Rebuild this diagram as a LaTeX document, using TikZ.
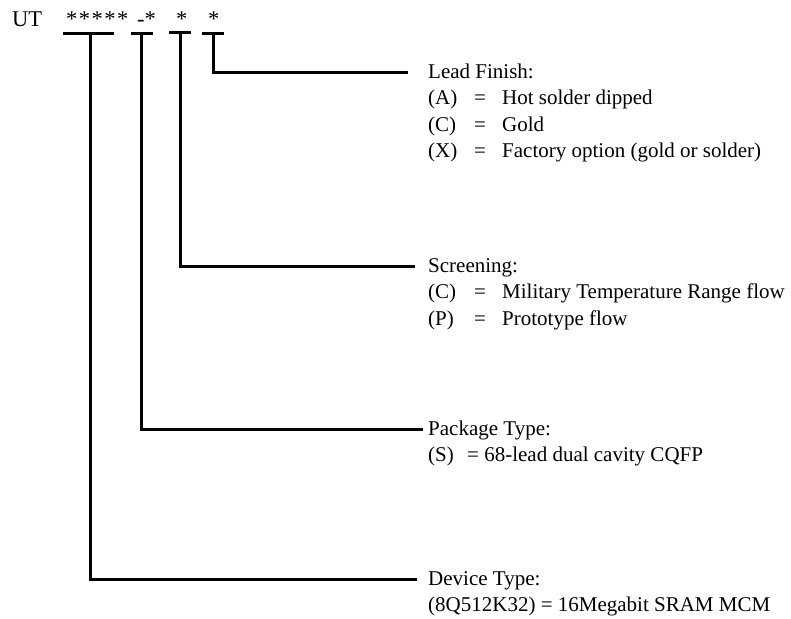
\documentclass[tikz,border=0pt]{standalone}
\usepackage{fontspec}
\setmainfont{Liberation Serif}
\begin{document}
\begin{tikzpicture}[x=1pt,y=-1pt,
  lbl/.style={font=\fontsize{21}{26.5}\selectfont, inner sep=0pt, anchor=base west},
  head/.style={font=\fontsize{21}{26.5}\selectfont, inner sep=0pt, anchor=west, text height=13.9pt, text depth=0pt},
  code/.style={font=\fontsize{22.5}{27}\selectfont, inner sep=0pt, anchor=base west},
  bar/.style={line width=3pt},
  conn/.style={line width=3pt}]
\fill[white] (0,0) rectangle (791,618);
\useasboundingbox (0,0) rectangle (791,618);
% part number code
\node[code] (ut) at (12,27) {UT};
\node[code] (dev) at (66,27) {*\kern1.5pt*\kern1.5pt*\kern1.5pt*\kern1.5pt*};
\node[code] (pkg) at (137,27) {-*};
\node[code] (scr) at (176,27) {*};
\node[code] (fin) at (208,27) {*};
% bars under the code fields
\coordinate (b1l) at (63,34);  \coordinate (b1r) at (114,34); \coordinate (b1) at (90,34);
\coordinate (b2l) at (131,34); \coordinate (b2r) at (153,34); \coordinate (b2) at (141,34);
\coordinate (b3l) at (169,33); \coordinate (b3r) at (191,33); \coordinate (b3) at (180,33);
\coordinate (b4l) at (202,34); \coordinate (b4r) at (224,34); \coordinate (b4) at (213,34);
\draw[bar] (b1l) -- (b1r);
\draw[bar] (b2l) -- (b2r);
\draw[bar] (b3l) -- (b3r);
\draw[bar] (b4l) -- (b4r);
% Lead finish
\node[head] (lf) at (428,72) {Lead Finish:};
\node[lbl] (lfa) at (428,104.5) {\makebox[46pt][l]{(A)}\makebox[28pt][l]{=}Hot solder dipped};
\node[lbl] (lfc) at (428,131) {\makebox[46pt][l]{(C)}\makebox[28pt][l]{=}Gold};
\node[lbl] (lfx) at (428,157.5) {\makebox[46pt][l]{(X)}\makebox[28pt][l]{=}Factory option (gold or solder)};
% Screening
\node[head] (sc) at (428,266) {Screening:};
\node[lbl] (scc) at (428,298.5) {\makebox[46pt][l]{(C)}\makebox[28pt][l]{=}Military Temperature Range flow};
\node[lbl] (scp) at (428,325) {\makebox[46pt][l]{(P)}\makebox[28pt][l]{=}Prototype flow};
% Package type
\node[head] (pt) at (428,429) {Package Type:};
\node[lbl] (pts) at (428,461.5) {\makebox[39pt][l]{(S)}= 68-lead dual cavity CQFP};
% Device type
\node[head] (dt) at (428,579) {Device Type:};
\node[lbl] (dtd) at (428,611) {(8Q512K32) = 16Megabit SRAM MCM};
% connectors
\draw[conn] (b4) -- (b4 |- lf.west) -- ([xshift=-20pt]lf.west);
\draw[conn] (b3) -- (b3 |- sc.west) -- ([xshift=-13pt]sc.west);
\draw[conn] (b2) -- (b2 |- pt.west) -- ([xshift=-5pt]pt.west);
\draw[conn] (b1) -- (b1 |- dt.west) -- ([xshift=-11pt]dt.west);
\end{tikzpicture}
\end{document}
